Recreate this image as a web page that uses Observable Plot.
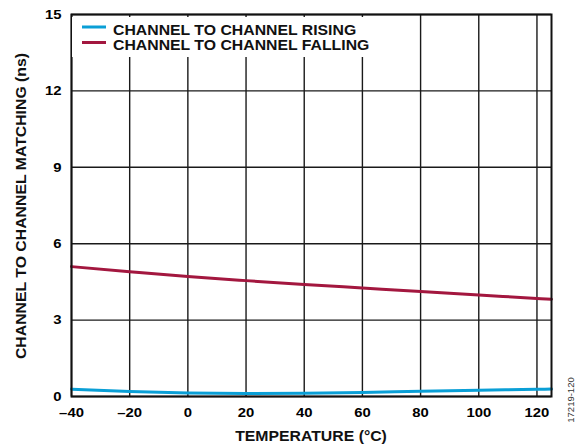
<!DOCTYPE html>
<html>
<head>
<meta charset="utf-8">
<script src="https://cdn.jsdelivr.net/npm/d3@7"></script>
<script src="https://cdn.jsdelivr.net/npm/@observablehq/plot@0.6"></script>
<style>
  body { margin: 0; background: #fff; }
  #chart { position: relative; width: 581px; height: 447px; }
  svg { font-family: "Liberation Sans", Arial, sans-serif; }
</style>
</head>
<body>
<div id="chart"></div>
<script>
const temperature = [-40, -20, 0, 20, 40, 60, 80, 100, 120, 125];
const rising  = [0.29, 0.20, 0.14, 0.12, 0.13, 0.16, 0.21, 0.25, 0.28, 0.29];
const falling = [5.10, 4.90, 4.71, 4.55, 4.40, 4.26, 4.12, 3.99, 3.85, 3.82];
const seriesNames = ["CHANNEL TO CHANNEL RISING", "CHANNEL TO CHANNEL FALLING"];
const seriesColors = ["#0a9fd6", "#a3173f"];
const xTicks = [-40, -20, 0, 20, 40, 60, 80, 100, 120];
const yTicks = [0, 3, 6, 9, 12, 15];
const xLabel = "TEMPERATURE (°C)";
const yLabel = "CHANNEL TO CHANNEL MATCHING (ns)";
const figureId = "17219-120";

const data = [];
temperature.forEach((t, i) => {
  data.push({t, v: rising[i], s: seriesNames[0]});
  data.push({t, v: falling[i], s: seriesNames[1]});
});

const fmt = d => d < 0 ? "\u2013" + Math.abs(d) : String(d);

const plot = Plot.plot({
  width: 581,
  height: 447,
  marginLeft: 71,
  marginRight: 30,
  marginTop: 14,
  marginBottom: 51,
  style: {fontFamily: '"Liberation Sans", Arial, sans-serif', fontSize: "13.5px", fontWeight: "bold", color: "#000", background: "#fff"},
  x: {domain: [-40, 125], ticks: xTicks, tickFormat: fmt, label: null},
  y: {domain: [0, 15], ticks: yTicks, label: null},
  color: {domain: seriesNames, range: seriesColors},
  marks: [
    Plot.ruleX(xTicks, {stroke: "#1a1a1a", strokeWidth: 1.4}),
    Plot.ruleY(yTicks, {stroke: "#1a1a1a", strokeWidth: 1.4}),
    Plot.line(data, {x: "t", y: "v", z: "s", stroke: "s", strokeWidth: 3, curve: "monotone-x"}),
    Plot.frame({stroke: "#111", strokeWidth: 2}),
    Plot.axisX({ticks: xTicks, tickFormat: fmt, tickSize: 0, tickPadding: 11, label: null, fontWeight: "bold", fontSize: 13.5}),
    Plot.axisY({ticks: yTicks, tickSize: 0, tickPadding: 10, label: null, fontWeight: "bold", fontSize: 13.5})
  ]
});

document.getElementById("chart").appendChild(plot);

const svg = d3.select(plot);
const sy = plot.scale("y");

// widen tick labels slightly (reference typeface is wider)
svg.selectAll('[aria-label="x-axis tick label"] text, [aria-label="y-axis tick label"] text').each(function() {
  const t = this.getAttribute("transform") || "";
  this.setAttribute("transform", t + " scale(1.1,1)");
});

function wideText(g, x, y, str, anchor, rot) {
  return g.append("text")
    .attr("transform", `translate(${x},${y})` + (rot ? ` rotate(${rot})` : "") + " scale(1.13,1)")
    .style("text-anchor", anchor).style("font-size", "14px").style("font-weight", "bold")
    .style("fill", "#111").text(str);
}

// Legend (white box covering gridlines)
const lg = svg.append("g");
lg.append("rect").attr("x", 72).attr("y", 17).attr("width", 302).attr("height", 40)
  .style("fill", "#ffffff").style("stroke", "none");
seriesNames.forEach((name, i) => {
  const yy = 27 + i * 15.5;
  lg.append("line").attr("x1", 82).attr("x2", 106).attr("y1", yy).attr("y2", yy)
    .style("stroke", seriesColors[i]).style("stroke-width", 3);
  wideText(lg, 113, 35 + i * 15, name, "start");
});

// Axis titles
wideText(svg, 311, 441, xLabel, "middle");
wideText(svg, 25.5, (sy.range[0] + sy.range[1]) / 2 + 1, yLabel, "middle", -90);

// Figure id
svg.append("text").attr("transform", "translate(574,400) rotate(-90)").style("text-anchor", "middle")
  .style("font-size", "9.5px").style("font-weight", "normal").style("fill", "#333").text(figureId);
</script>
</body>
</html>
